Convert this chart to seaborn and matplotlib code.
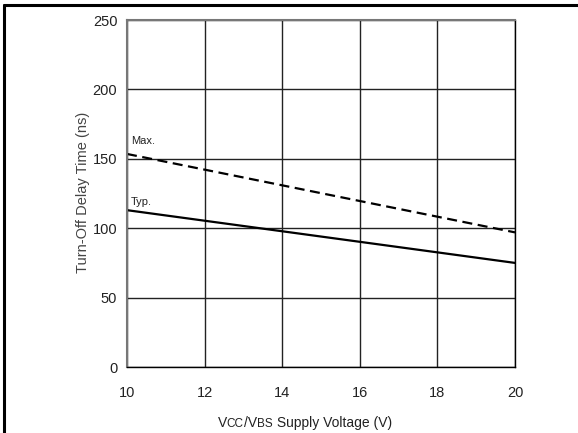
import pandas as pd
import seaborn as sns
import matplotlib.pyplot as plt
from matplotlib.lines import Line2D
from matplotlib.offsetbox import TextArea, HPacker, AnchoredOffsetbox

# Data
voltage = [10, 12, 14, 16, 18, 20]
t_max = [153.5, 142.2, 130.9, 119.6, 108.3, 97.0]
t_typ = [113.0, 105.4, 97.8, 90.2, 82.6, 75.0]
x_ticks = [10, 12, 14, 16, 18, 20]
y_ticks = [0, 50, 100, 150, 200, 250]

df = pd.DataFrame({
    'Voltage': voltage * 2,
    'Delay': t_max + t_typ,
    'Curve': ['Max.'] * len(voltage) + ['Typ.'] * len(voltage),
})

sns.set_style('white')
plt.rcParams['font.family'] = ['Liberation Sans', 'DejaVu Sans']

fig = plt.figure(figsize=(5.78, 4.33), dpi=100)
ax = fig.add_axes([0.2197, 0.1524, 0.6713, 0.8014])

sns.lineplot(data=df, x='Voltage', y='Delay', style='Curve',
             dashes={'Max.': (4.5, 2.5), 'Typ.': ''},
             color='black', linewidth=1.6, legend=False, ax=ax)

ax.set_xlim(10, 20)
ax.set_ylim(0, 250)
ax.set_xticks(x_ticks)
ax.set_yticks(y_ticks)
ax.grid(True, color='#222222', linewidth=1.0)
ax.set_axisbelow(True)

for side in ['top', 'left']:
    ax.spines[side].set_color('#777777')
    ax.spines[side].set_linewidth(1.5)
for side in ['bottom', 'right']:
    ax.spines[side].set_color('black')
    ax.spines[side].set_linewidth(1.0)

ax.tick_params(axis='both', direction='out', length=4, width=1, color='#444444',
               labelsize=10.5, labelcolor='#222222', pad=3)
ax.tick_params(axis='x', pad=10)

ax.set_xlabel('')
ax.set_ylabel('')

# x label with small-caps subscripts like the datasheet
pieces = [('V', 10), ('CC', 8.5), ('/V', 10), ('BS', 8.5), (' Supply Voltage (V)', 10)]
boxes = [TextArea(t, textprops=dict(fontsize=s, color='#222222')) for t, s in pieces]
pack = HPacker(children=boxes, align='baseline', pad=0, sep=0)
anchored = AnchoredOffsetbox(loc='center', child=pack, frameon=False,
                             bbox_to_anchor=(0.527, 0.024), bbox_transform=fig.transFigure,
                             borderpad=0)
fig.add_artist(anchored)

fig.text(0.143, 0.555, 'Turn-Off Delay Time (ns)', ha='center', va='center',
         rotation=90, fontsize=10.5, color='#444444')

ax.text(10.1, 163, 'Max.', fontsize=8, color='#222222', ha='left', va='center')
ax.text(10.1, 119, 'Typ.', fontsize=8, color='#222222', ha='left', va='center')

# outer frame lines (left and top)
fig.add_artist(Line2D([0.0069, 0.0069], [0, 0.9885], color='black', linewidth=2.2, transform=fig.transFigure))
fig.add_artist(Line2D([0.0069, 1.0], [0.9885, 0.9885], color='black', linewidth=2.2, transform=fig.transFigure))

fig.savefig('out.png', dpi=100)
